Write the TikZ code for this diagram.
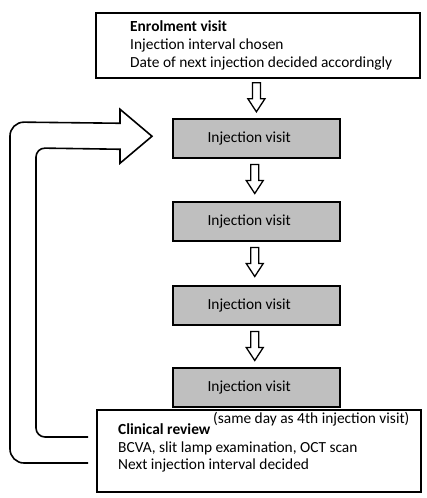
\documentclass[tikz,border=0pt]{standalone}
\usepackage{fontspec}
\setmainfont{Carlito}
\usetikzlibrary{calc}
\definecolor{boxgrey}{HTML}{BFBFBF}
\tikzset{
  txt/.style={font=\fontsize{15.4}{18}\selectfont, inner sep=0pt},
  bigbox/.style={draw, line width=1.8pt, minimum width=324pt, anchor=north west, inner sep=0pt},
  injbox/.style={draw, fill=boxgrey, line width=1.5pt, minimum width=167pt, minimum height=39pt, anchor=north west, inner sep=0pt},
  downarr/.pic={\draw[line width=1.3pt, line join=miter] (-4,0) -- (4,0) -- (4,16) -- (8.5,16) -- (0,29) -- (-8.5,16) -- (-4,16) -- cycle;}
}
\begin{document}
\begin{tikzpicture}[x=1pt,y=-1pt]
\useasboundingbox (0,0) rectangle (426,498);
% boxes
\node[bigbox, minimum height=65pt] (enrol) at (95,12) {};
\node[injbox] (inj1) at (172,118) {};
\node[injbox] (inj2) at (172,201) {};
\node[injbox] (inj3) at (172,285) {};
\node[injbox] (inj4) at (172,367) {};
\node[bigbox, minimum height=82pt] (clin) at (96,409) {};
% enrolment text
\node[txt, anchor=base west] (e1) at (130,31) {\textbf{Enrolment visit}};
\node[txt, anchor=base west] (e2) at (130,49) {Injection interval chosen};
\node[txt, anchor=base west] (e3) at (130,67) {Date of next injection decided accordingly};
% injection texts
\foreach \n in {inj1,inj2,inj3,inj4}{
  \node[txt] at ($(\n.center)+(-7,0)$) {Injection visit};
}
% clinical text
\node[txt, anchor=base west] (c1) at (118,434) {\textbf{Clinical review}};
\node[txt, anchor=base west] (c0) at (213,423) {(same day as 4th injection visit)};
\node[txt, anchor=base west] (c2) at (118,452) {BCVA, slit lamp examination, OCT scan};
\node[txt, anchor=base west] (c3) at (118,469) {Next injection interval decided};
% down arrows
\pic at ($(enrol.south)+(-1.5,4)$) {downarr};
\pic at ($(inj1.south)+(-1.5,6)$) {downarr};
\pic at ($(inj2.south)+(-1.5,6)$) {downarr};
\pic at ($(inj3.south)+(-1.5,6)$) {downarr};
% loop arrow
\coordinate (outend) at ($(clin.north west)+(-8,54)$);
\coordinate (inend) at ($(clin.north west)+(-8,28)$);
\coordinate (tip) at ($(inj1.west)+(-20,-2)$);
\draw[line width=1.6pt, line join=miter]
  (outend) [rounded corners=14pt] -- (10,463) -- (10,122) [sharp corners] -- ($(tip)+(-32,-13)$)
  -- ($(tip)+(-32,-27)$) -- (tip) -- ($(tip)+(-32,27)$) -- ($(tip)+(-32,13)$)
  [rounded corners=9pt] -- (36,148) -- (36,437) -- (inend);
\end{tikzpicture}
\end{document}
